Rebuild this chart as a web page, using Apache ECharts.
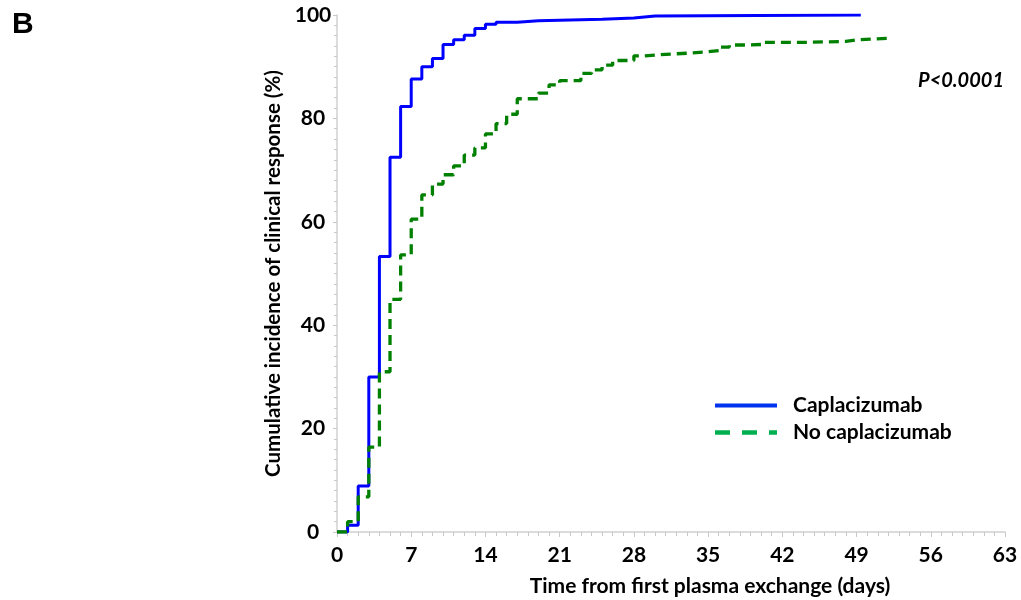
<!DOCTYPE html>
<html>
<head>
<meta charset="utf-8">
<script src="https://cdn.jsdelivr.net/npm/echarts@6/dist/echarts.min.js"></script>
<style>
html,body{margin:0;padding:0;background:#fff;}
#chart{width:1021px;height:600px;}
</style>
</head>
<body>
<div id="chart"></div>
<script>
// ---- data ----
const seriesNames = ['Caplacizumab', 'No caplacizumab'];
const capDays = [0, 1, 2, 3, 4, 5, 6, 7, 8, 9, 10, 11, 12, 13, 14, 15, 17, 19, 25, 28, 29, 30, 49.4];
const capVals = [0, 1.3, 8.9, 30, 53.3, 72.5, 82.3, 87.6, 90, 91.6, 94.3, 95.2, 96.1, 97.4, 98.2, 98.6, 98.9, 99.2, 99.4, 99.6, 99.8, 100, 100];
const noDays = [0, 1, 2, 3, 4, 5, 6, 7, 8, 9, 10, 11, 12, 13, 14, 15, 16, 17, 19, 20, 21, 23, 24, 25, 26, 28, 29, 31, 33, 35, 36, 37, 39, 40, 44, 48, 49, 52];
const noVals = [0, 2.0, 6.8, 16.4, 31, 45, 53.6, 60.5, 65.2, 67.3, 69.1, 70.8, 72.9, 74.3, 77, 79, 80.8, 83.8, 84.9, 86.5, 87.3, 88.7, 89.4, 90.3, 91.2, 92.1, 92.4, 92.6, 92.9, 93.1, 93.8, 94.2, 94.3, 94.7, 94.9, 95.2, 95.5, 95.5];
const xTicks = [0, 7, 14, 21, 28, 35, 42, 49, 56, 63];
const yTicks = [0, 20, 40, 60, 80, 100];
const xTitle = 'Time from first plasma exchange (days)';
const yTitle = 'Cumulative incidence of clinical response (%)';
const panelLabel = 'B';
const pText = 'P<0.0001';

const FONT = 'Lato';
const toPairs = (xs, ys) => xs.map((x, i) => [x, ys[i]]);

const chart = echarts.init(document.getElementById('chart'));
chart.setOption({
  animation: false,
  backgroundColor: '#ffffff',
  grid: {left: 337, right: 16, top: 15, bottom: 68},
  xAxis: {
    type: 'value', min: xTicks[0], max: xTicks[xTicks.length - 1], interval: 7,
    axisLine: {show: true, lineStyle: {color: '#d0d0d0', width: 1.5}},
    axisTick: {show: true, length: 5, lineStyle: {color: '#c8c8c8'}},
    minorTick: {show: true, splitNumber: 7, length: 4, lineStyle: {color: '#c8c8c8'}},
    splitLine: {show: false},
    axisLabel: {color: '#000', fontFamily: FONT, fontWeight: 'bold', fontSize: 21, margin: 13}
  },
  yAxis: {
    type: 'value', min: yTicks[0], max: yTicks[yTicks.length - 1], interval: 20,
    name: yTitle, nameLocation: 'middle', nameGap: 47, nameRotate: 90,
    nameTextStyle: {color: '#000', fontFamily: FONT, fontWeight: 'bold', fontSize: 20.5},
    axisLine: {show: true, lineStyle: {color: '#d0d0d0', width: 1.5}},
    axisTick: {show: true, length: 4, lineStyle: {color: '#c8c8c8'}},
    minorTick: {show: true, splitNumber: 10, length: 3, lineStyle: {color: '#c8c8c8'}},
    splitLine: {show: false},
    axisLabel: {color: '#000', fontFamily: FONT, fontWeight: 'bold', fontSize: 21, margin: 24, align: 'center'}
  },
  legend: {
    orient: 'vertical', left: 710, top: 390,
    itemWidth: 62, itemHeight: 14, itemGap: 6,
    textStyle: {color: '#000', fontFamily: FONT, fontWeight: 'bold', fontSize: 21, lineHeight: 18, padding: [0, 0, 0, 11]},
    data: [
      {name: seriesNames[0], icon: 'path://M0,0L62,0L62,4L0,4Z', itemStyle: {color: '#0033ee'}},
      {name: seriesNames[1], icon: 'path://M0,0L15,0L15,4.5L0,4.5Z M27,0L42,0L42,4.5L27,4.5Z M54,0L62,0L62,4.5L54,4.5Z', itemStyle: {color: '#00b050'}}
    ]
  },
  series: [
    {
      name: seriesNames[0], type: 'line', step: 'end', symbol: 'none',
      data: toPairs(capDays, capVals),
      lineStyle: {color: '#0000ff', width: 3}, itemStyle: {color: '#0000ff'}, z: 3
    },
    {
      name: seriesNames[1], type: 'line', step: 'end', symbol: 'none',
      data: toPairs(noDays, noVals),
      lineStyle: {color: '#008000', width: 3.3, type: [10, 6]}, itemStyle: {color: '#008000'}, z: 4
    }
  ],
  graphic: [
    {type: 'text', left: 12, top: 10, style: {text: panelLabel, font: 'bold 30px "Liberation Sans", Arial, sans-serif', fill: '#000'}},
    {type: 'text', x: 1004, y: 81, style: {text: pText, font: 'italic bold 20px Lato', fill: '#000', textAlign: 'right', textVerticalAlign: 'middle'}},
    {type: 'text', x: 710, y: 586, style: {text: xTitle, font: 'bold 21px Lato', fill: '#000', textAlign: 'center', textVerticalAlign: 'middle'}}
  ]
});
</script>
</body>
</html>
